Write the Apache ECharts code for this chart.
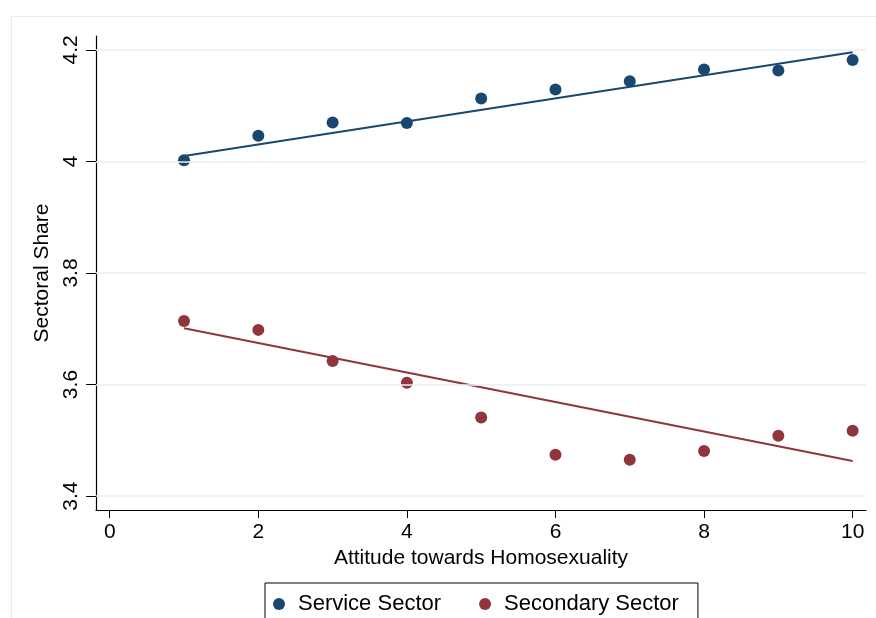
<!DOCTYPE html>
<html>
<head>
<meta charset="utf-8">
<script src="https://cdn.jsdelivr.net/npm/echarts@6/dist/echarts.min.js"></script>
<style>
  html, body { margin: 0; padding: 0; background: #fff; }
  #chart { width: 876px; height: 618px; }
</style>
</head>
<body>
<div id="chart"></div>
<script>
// ---- data ----
const attitude = [1, 2, 3, 4, 5, 6, 7, 8, 9, 10];
const serviceShare = [4.002, 4.046, 4.070, 4.069, 4.113, 4.129, 4.144, 4.165, 4.163, 4.182];
const secondaryShare = [3.714, 3.698, 3.642, 3.603, 3.541, 3.474, 3.465, 3.481, 3.508, 3.517];
const fitX = [1, 10];
const serviceFit = [4.010, 4.196];
const secondaryFit = [3.701, 3.463];
const xTicks = [0, 2, 4, 6, 8, 10];
const yTicks = [3.4, 3.6, 3.8, 4, 4.2];
const seriesNames = ['Service Sector', 'Secondary Sector'];
const xTitle = 'Attitude towards Homosexuality';
const yTitle = 'Sectoral Share';

const BLUE = '#1a476f';
const RED = '#90353b';
const FONT = 'Liberation Sans, Arial, Helvetica, sans-serif';

const pairs = (xs, ys) => xs.map((x, i) => [x, ys[i]]);

const chart = echarts.init(document.getElementById('chart'), null, { renderer: 'canvas' });
chart.setOption({
  animation: false,
  backgroundColor: '#ffffff',
  textStyle: { fontFamily: FONT },
  graphic: [{
    type: 'rect', left: 9, top: 14, silent: true, z: -10,
    shape: { width: 900, height: 700 },
    style: { fill: 'none', stroke: '#e3ecef', lineWidth: 1 }
  }],
  grid: { left: 96, right: 10, top: 36, bottom: 108, containLabel: false, outerBoundsMode: 'none' },
  xAxis: {
    type: 'value', min: -0.185, max: 10.18,
    axisLine: { show: true, onZero: false, lineStyle: { color: '#000', width: 1.2 } },
    axisTick: { show: true, customValues: xTicks, length: 8, lineStyle: { color: '#000', width: 1 } },
    axisLabel: { customValues: xTicks, fontSize: 21, color: '#000', margin: 12, fontFamily: FONT },
    splitLine: { show: false },
    name: xTitle, nameLocation: 'middle', nameGap: 35,
    nameTextStyle: { fontSize: 21, color: '#000', fontFamily: FONT }
  },
  yAxis: {
    type: 'value', min: 3.375, max: 4.225,
    axisLine: { show: true, onZero: false, lineStyle: { color: '#000', width: 1.2 } },
    axisTick: { show: true, customValues: yTicks, length: 10, lineStyle: { color: '#000', width: 1 } },
    axisLabel: { customValues: yTicks, rotate: 90, fontSize: 21, color: '#000', margin: 14, fontFamily: FONT },
    splitLine: { show: false },
    name: yTitle, nameLocation: 'middle', nameGap: 39,
    nameTextStyle: { fontSize: 21, color: '#000', fontFamily: FONT }
  },
  legend: {
    data: seriesNames.map(n => ({ name: n, icon: 'circle' })),
    left: 265, top: 583, orient: 'horizontal',
    padding: [10, 19, 20, 8],
    itemWidth: 12, itemHeight: 12, itemGap: 38,
    borderColor: '#000', borderWidth: 1, borderRadius: 0,
    textStyle: { fontSize: 22, color: '#000', fontFamily: FONT, padding: [0, 0, 0, 8] }
  },
  series: [
    {
      name: 'gridlines', type: 'line', data: [], silent: true, z: 0,
      markLine: {
        silent: true, symbol: 'none', animation: false,
        label: { show: false },
        lineStyle: { color: '#e8eff2', type: 'solid', width: 1.5 },
        data: yTicks.map(v => ({ yAxis: v }))
      }
    },
    {
      name: 'Service fit', type: 'line', data: pairs(fitX, serviceFit),
      showSymbol: false, symbol: 'none', z: 2,
      lineStyle: { color: BLUE, width: 2 }
    },
    {
      name: 'Secondary fit', type: 'line', data: pairs(fitX, secondaryFit),
      showSymbol: false, symbol: 'none', z: 2,
      lineStyle: { color: RED, width: 2 }
    },
    {
      name: seriesNames[0], type: 'scatter', data: pairs(attitude, serviceShare),
      symbol: 'circle', symbolSize: 12, z: 3,
      itemStyle: { color: BLUE, opacity: 1 }
    },
    {
      name: seriesNames[1], type: 'scatter', data: pairs(attitude, secondaryShare),
      symbol: 'circle', symbolSize: 12, z: 3,
      itemStyle: { color: RED, opacity: 1 }
    }
  ]
});
</script>
</body>
</html>
